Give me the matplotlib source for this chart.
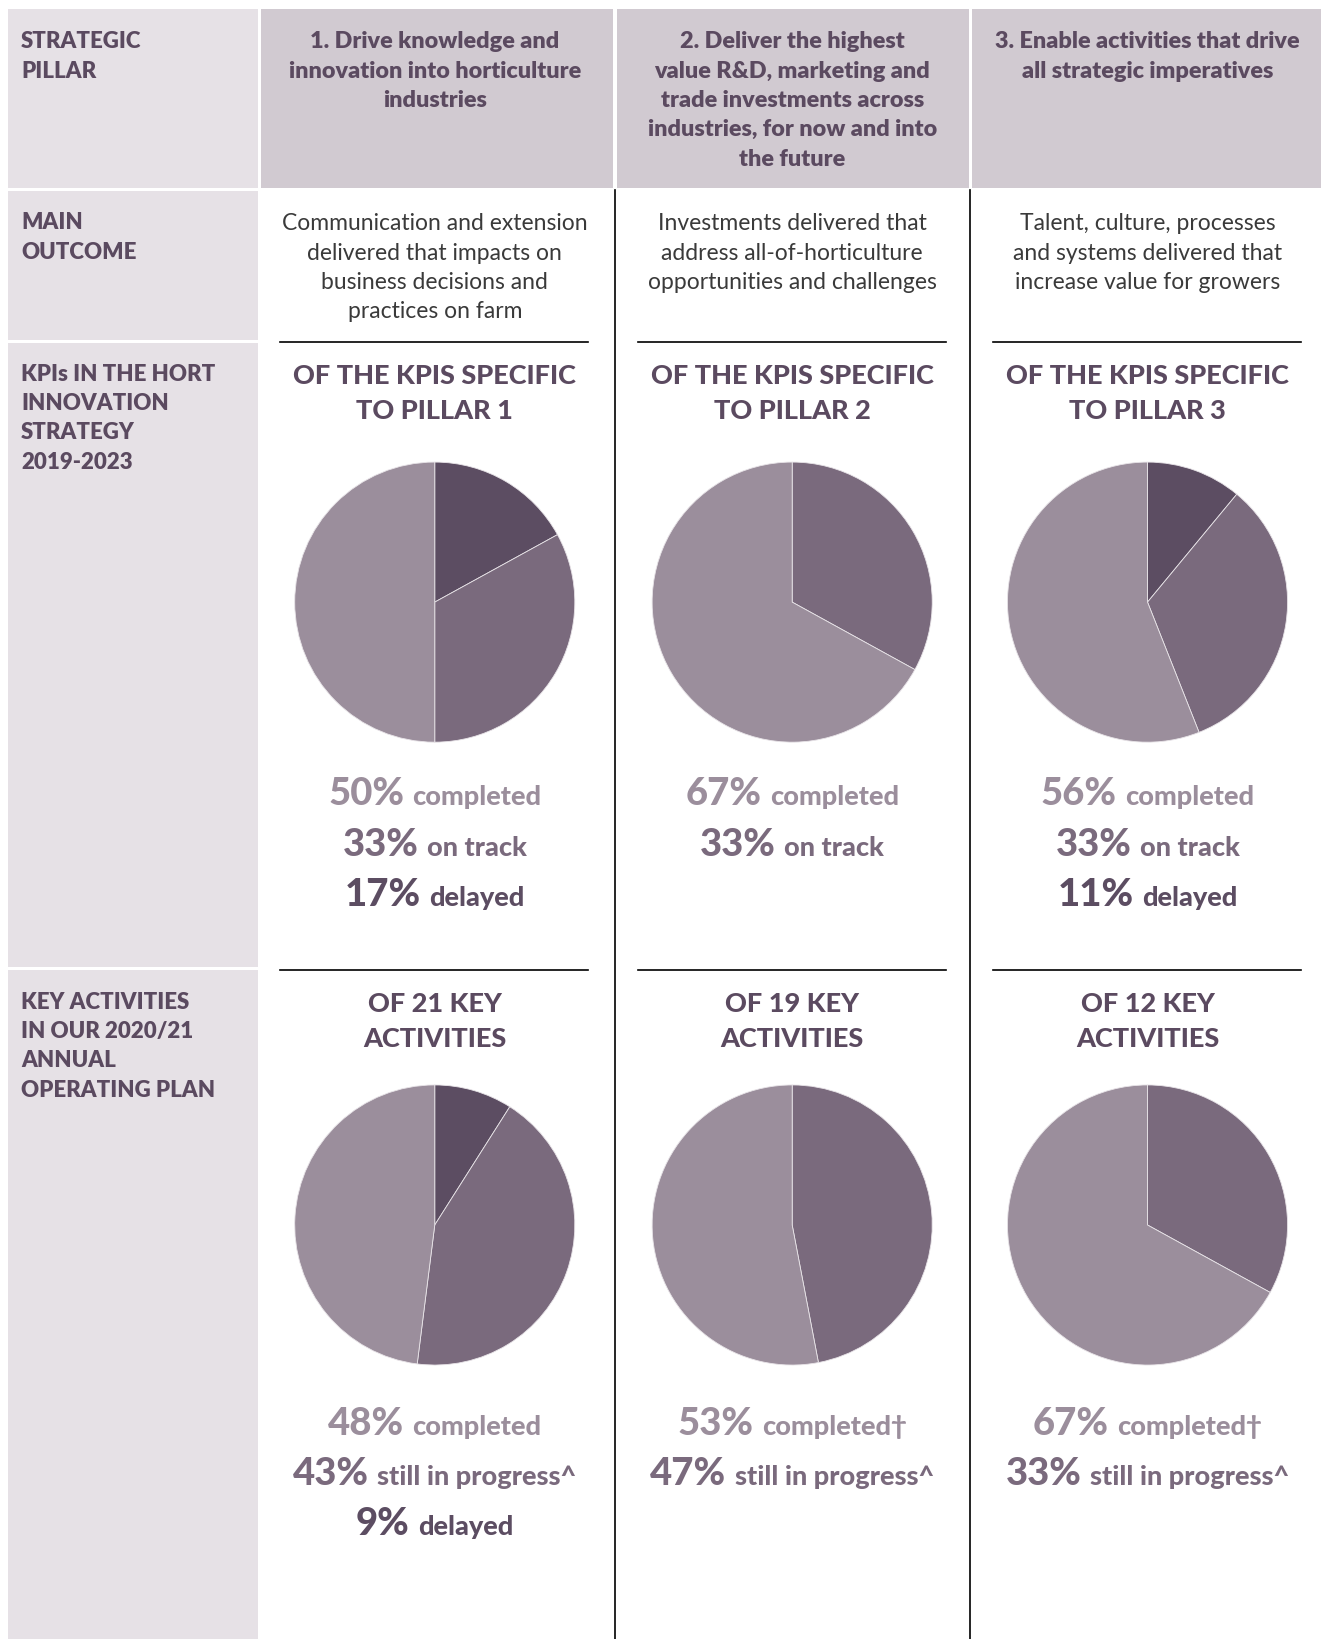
import matplotlib
matplotlib.use("Agg")
import matplotlib.pyplot as plt
from matplotlib.patches import Rectangle
from matplotlib.offsetbox import TextArea, HPacker, AnnotationBbox

# ---- data ----
pillars = [
    "1. Drive knowledge and\ninnovation into horticulture\nindustries",
    "2. Deliver the highest\nvalue R&D, marketing and\ntrade investments across\nindustries, for now and into\nthe future",
    "3. Enable activities that drive\nall strategic imperatives",
]
outcomes = [
    "Communication and extension\ndelivered that impacts on\nbusiness decisions and\npractices on farm",
    "Investments delivered that\naddress all-of-horticulture\nopportunities and challenges",
    "Talent, culture, processes\nand systems delivered that\nincrease value for growers",
]
row_labels = [
    "STRATEGIC\nPILLAR",
    "MAIN\nOUTCOME",
    "KPIs IN THE HORT\nINNOVATION\nSTRATEGY\n2019-2023",
    "KEY ACTIVITIES\nIN OUR 2020/21\nANNUAL\nOPERATING PLAN",
]
kpi_titles = ["OF THE KPIS SPECIFIC\nTO PILLAR 1", "OF THE KPIS SPECIFIC\nTO PILLAR 2",
              "OF THE KPIS SPECIFIC\nTO PILLAR 3"]
act_titles = ["OF 21 KEY\nACTIVITIES", "OF 19 KEY\nACTIVITIES", "OF 12 KEY\nACTIVITIES"]

# values clockwise from 12 o'clock: delayed, on track / in progress, completed
kpi_delayed = [17, 0, 11]
kpi_ontrack = [33, 33, 33]
kpi_completed = [50, 67, 56]
act_delayed = [9, 0, 0]
act_progress = [43, 47, 33]
act_completed = [48, 53, 67]
kpi_words = ["completed", "on track", "delayed"]
act_words = [["completed", "still in progress^", "delayed"],
             ["completed\u2020", "still in progress^", "delayed"],
             ["completed\u2020", "still in progress^", "delayed"]]

C_LIGHT = "#9b8e9c"
C_MED = "#7a6a7d"
C_DARK = "#5c4d62"
TXT = "#5b4a60"
BG_LEFT = "#e6e1e6"
BG_HEAD = "#d1cad1"

W, H = 1264, 1568
fig = plt.figure(figsize=(13.21, 16.39), dpi=100)
ax = fig.add_axes([0, 0, 1, 1])
ax.set_xlim(0, W)
ax.set_ylim(0, H)
ax.set_aspect("equal")
ax.axis("off")


def Y(y):
    return H - y


def rect(x0, y0, x1, y1, color):
    ax.add_patch(Rectangle((x0, Y(y1)), x1 - x0, y1 - y0, color=color, lw=0, zorder=0))


def lines(text, x, y0, step, ha="center", **kw):
    for i, ln in enumerate(text.split("\n")):
        ax.text(x, Y(y0 + i * step), ln, ha=ha, va="center", **kw)


# background blocks
rect(8, 8, 247, 180, BG_LEFT)
rect(8, 183, 247, 325, BG_LEFT)
rect(8, 328, 247, 925, BG_LEFT)
rect(8, 928, 247, 1568, BG_LEFT)
col_edges = [(250, 587), (590, 927), (930, 1264)]
for x0, x1 in col_edges:
    rect(x0, 8, x1, 180, BG_HEAD)
for xv in [588.5, 928.5]:
    ax.plot([xv, xv], [Y(182), Y(1568)], color="black", lw=1.2)
centers = [416, 758, 1098]
for xc in centers:
    for yl in [327, 928]:
        ax.plot([xc - 148, xc + 147], [Y(yl), Y(yl)], color="black", lw=1.2)

FONT = "Lato"
row_y = [40, 213, 358, 959]
for lab, yy in zip(row_labels, row_y):
    lines(lab, 20, yy, 28, ha="left", fontsize=16, fontweight="heavy", color=TXT, family=FONT)

for i, xc in enumerate(centers):
    lines(pillars[i], xc, 40, 28, fontsize=16.8, fontweight="heavy", color=TXT, family=FONT)
    lines(outcomes[i], xc, 214, 28, fontsize=16.5, fontweight="normal", color="#3a3a3a", family=FONT)
    lines(kpi_titles[i], xc, 360, 33, fontsize=19.5, fontweight="black", color=TXT, family=FONT)
    lines(act_titles[i], xc, 961, 33, fontsize=19.5, fontweight="black", color=TXT, family=FONT)


def pie(xc, yc, vals, cols):
    v = [a for a in vals if a > 0]
    c = [cc for a, cc in zip(vals, cols) if a > 0]
    ax.pie(v, colors=c, center=(xc, Y(yc)), radius=134, startangle=90, counterclock=False,
           wedgeprops=dict(edgecolor="#e8e4e8", linewidth=0.6))


def stat(xc, yc, num, word, color):
    a = TextArea(f"{num}%", textprops=dict(fontsize=27.5, fontweight="black", color=color, family=FONT))
    b = TextArea(word, textprops=dict(fontsize=19.5, fontweight="black", color=color, family=FONT))
    box = HPacker(children=[a, b], align="baseline", pad=0, sep=6)
    ab = AnnotationBbox(box, (xc, Y(yc)), frameon=False, box_alignment=(0.5, 0.5))
    ax.add_artist(ab)


cols = [C_DARK, C_MED, C_LIGHT]
for i, xc in enumerate(centers):
    pie(xc, 576, [kpi_delayed[i], kpi_ontrack[i], kpi_completed[i]], cols)
    pie(xc, 1172, [act_delayed[i], act_progress[i], act_completed[i]], cols)
    yy = 760
    for val, word, c in zip([kpi_completed[i], kpi_ontrack[i], kpi_delayed[i]], kpi_words,
                            [C_LIGHT, C_MED, C_DARK]):
        if val > 0:
            stat(xc, yy, val, word, c)
            yy += 48
    yy = 1362
    for val, word, c in zip([act_completed[i], act_progress[i], act_delayed[i]], act_words[i],
                            [C_LIGHT, C_MED, C_DARK]):
        if val > 0:
            stat(xc, yy, val, word, c)
            yy += 48

ax.set_xlim(0, W)
ax.set_ylim(0, H)
fig.savefig("out.png", dpi=100, facecolor="white")
